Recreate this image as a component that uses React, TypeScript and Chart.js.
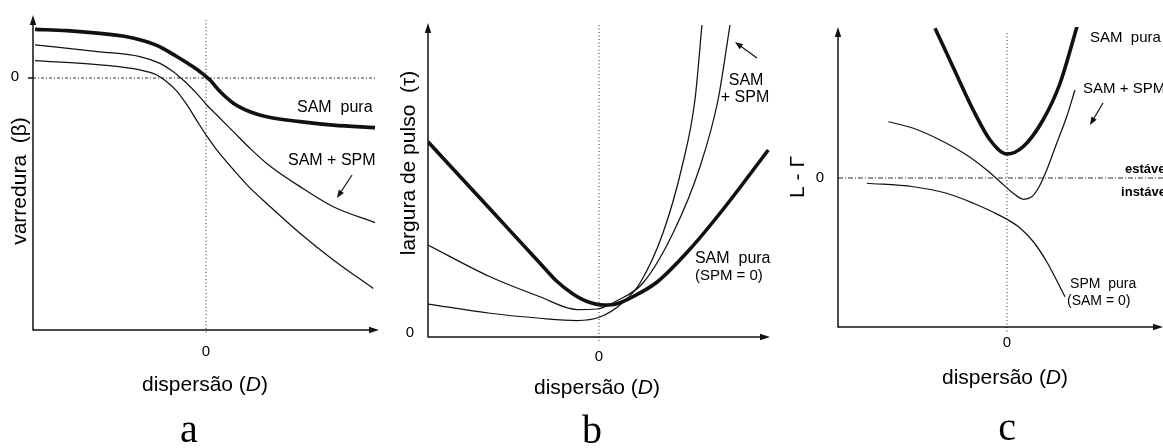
import React, { useEffect, useRef } from "react";
import { Chart, registerables } from "chart.js";

Chart.register(...registerables);

// ---------- Panel a : varredura (β) × dispersão (D)
const aSamPuraD = [-0.988, -0.805, -0.613, -0.458, -0.362, -0.266, -0.169, -0.092, -0.035, 0.023, 0.081, 0.158, 0.254, 0.351, 0.543, 0.736, 0.977];
const aSamPuraBeta = [1.93, 1.88, 1.77, 1.64, 1.48, 1.24, 0.85, 0.52, 0.25, -0.08, -0.54, -1.0, -1.34, -1.54, -1.73, -1.87, -1.97];
const aSamSpm1D = [-0.988, -0.613, -0.382, -0.266, -0.189, -0.121, -0.054, 0.004, 0.062, 0.158, 0.254, 0.351, 0.543, 0.736, 0.977];
const aSamSpm1Beta = [1.31, 1.04, 0.85, 0.58, 0.25, -0.15, -0.61, -1.07, -1.47, -2.13, -2.79, -3.39, -4.31, -5.11, -5.74];
const aSamSpm2D = [-0.988, -0.613, -0.382, -0.285, -0.227, -0.169, -0.112, -0.054, 0.004, 0.062, 0.158, 0.254, 0.351, 0.543, 0.736, 0.967];
const aSamSpm2Beta = [0.69, 0.52, 0.32, 0.12, -0.15, -0.52, -1.05, -1.68, -2.3, -2.85, -3.63, -4.36, -4.98, -6.16, -7.22, -8.35];

// ---------- Panel b : largura de pulso (τ) × dispersão (D)
const bSamPuraD = [-1, -0.637, -0.345, -0.25, -0.152, -0.07, 0.03, 0.1, 0.2, 0.34, 0.53, 0.725, 0.99];
const bSamPuraTau = [7.81, 5.12, 2.95, 2.25, 1.72, 1.42, 1.28, 1.32, 1.62, 2.2, 3.5, 5.1, 7.48];
const bSamSpm1D = [-1, -0.637, -0.345, -0.129, -0.012, 0.105, 0.257, 0.433, 0.59, 0.696, 0.766];
const bSamSpm1Tau = [3.68, 2.41, 1.61, 1.1, 1.12, 1.45, 2.16, 4.16, 6.8, 9.48, 12.48];
const bSamSpm2D = [-1, -0.637, -0.345, -0.129, 0.006, 0.14, 0.24, 0.374, 0.485, 0.561, 0.602];
const bSamSpm2Tau = [1.32, 0.95, 0.75, 0.66, 0.8, 1.38, 2.16, 4.16, 6.8, 9.48, 12.48];

// ---------- Panel c : L - Γ × dispersão (D)
const cSamPuraD = [-0.426, -0.32, -0.2, -0.1, 0, 0.095, 0.213, 0.314, 0.414];
const cSamPuraLG = [5.99, 4.45, 2.72, 1.52, 0.96, 1.25, 2.32, 3.79, 6.05];
const cSamSpmD = [-0.702, -0.554, -0.396, -0.239, -0.12, -0.041, 0.037, 0.097, 0.146, 0.185, 0.235, 0.294, 0.353, 0.402];
const cSamSpmLG = [2.25, 1.99, 1.52, 0.92, 0.32, -0.15, -0.61, -0.85, -0.75, -0.41, 0.32, 1.39, 2.45, 3.52];
const cSpmPuraD = [-0.83, -0.554, -0.357, -0.199, -0.081, 0.002, 0.077, 0.156, 0.235, 0.343];
const cSpmPuraLG = [-0.21, -0.35, -0.61, -1.01, -1.37, -1.66, -2.0, -2.55, -3.35, -4.75];

// ---------- texts
const xTickLabel = "0";
const yTickLabel = "0";
const xTitleMain = "dispersão (";
const xTitleVar = "D";
const xTitleEnd = ")";
const aYTitle = "varredura  (β)";
const bYTitle = "largura de pulso  (τ)";
const cYTitle = "L - Γ";

const SANS = "'Liberation Sans', Arial, Helvetica, sans-serif";
const SERIF = "'Liberation Serif', 'Times New Roman', serif";
const INK = "#111";

type Series = { xs: number[]; ys: number[]; thick: boolean };
type Label = { t: string; x: number; y: number; align: CanvasTextAlign; size: number; bold?: boolean };
type Arrow = { x1: number; y1: number; x2: number; y2: number };
type PanelCfg = {
  id: string;
  letter: string;
  left: number;
  w: number;
  h: number;
  pad: { left: number; right: number; top: number; bottom: number };
  xMin: number;
  xMax: number;
  yMin: number;
  yMax: number;
  series: Series[];
  yTitle: string;
  yTitleDx: number;
  yTitleTop: number;
  yTickDx: number;
  yTickDy: number;
  yTickMark: boolean;
  xTickDy: number;
  xTitleDx: number;
  xTitleDy: number;
  letterDx: number;
  letterDy: number;
  vTop: number;
  hZero: { dash: number[]; inset: number } | null;
  labels: Label[];
  arrows: Arrow[];
};

const panels: PanelCfg[] = [
  {
    id: "a",
    letter: "a",
    left: 0,
    w: 390,
    h: 448,
    pad: { left: 33, right: 11, top: 15, bottom: 118 },
    xMin: -1,
    xMax: 1,
    yMin: -10,
    yMax: 2.5,
    series: [
      { xs: aSamPuraD, ys: aSamPuraBeta, thick: true },
      { xs: aSamSpm1D, ys: aSamSpm1Beta, thick: false },
      { xs: aSamSpm2D, ys: aSamSpm2Beta, thick: false },
    ],
    yTitle: aYTitle,
    yTitleDx: -13,
    yTitleTop: 166,
    yTickDx: -18,
    yTickDy: -1,
    yTickMark: true,
    xTickDy: 22,
    xTitleDx: -1,
    xTitleDy: 61,
    letterDx: -17,
    letterDy: 112,
    vTop: 5,
    hZero: { dash: [3, 2, 1, 2], inset: 2 },
    labels: [
      { t: "SAM  pura", x: 0.526, y: -1.35, align: "left", size: 16 },
      { t: "SAM + SPM", x: 0.474, y: -3.45, align: "left", size: 16 },
    ],
    arrows: [{ x1: 0.844, y1: -3.85, x2: 0.757, y2: -4.76 }],
  },
  {
    id: "b",
    letter: "b",
    left: 390,
    w: 390,
    h: 448,
    pad: { left: 38, right: 10, top: 23, bottom: 111 },
    xMin: -1,
    xMax: 1,
    yMin: 0,
    yMax: 12.56,
    series: [
      { xs: bSamPuraD, ys: bSamPuraTau, thick: true },
      { xs: bSamSpm1D, ys: bSamSpm1Tau, thick: false },
      { xs: bSamSpm2D, ys: bSamSpm2Tau, thick: false },
    ],
    yTitle: bYTitle,
    yTitleDx: -19,
    yTitleTop: 140,
    yTickDx: -18,
    yTickDy: -4,
    yTickMark: false,
    xTickDy: 20,
    xTitleDx: -2,
    xTitleDy: 57,
    letterDx: -7,
    letterDy: 106,
    vTop: 2,
    hZero: null,
    labels: [
      { t: "SAM", x: 0.86, y: 10.08, align: "center", size: 16 },
      { t: "+ SPM", x: 0.854, y: 9.4, align: "center", size: 16 },
      { t: "SAM  pura", x: 0.561, y: 2.96, align: "left", size: 16 },
      { t: "(SPM = 0)", x: 0.561, y: 2.28, align: "left", size: 15 },
    ],
    arrows: [{ x1: 0.924, y1: 11.16, x2: 0.795, y2: 11.8 }],
  },
  {
    id: "c",
    letter: "c",
    left: 780,
    w: 383,
    h: 448,
    pad: { left: 58, right: 0, top: 27, bottom: 121 },
    xMin: -1,
    xMax: 0.923,
    yMin: -5.96,
    yMax: 6.04,
    series: [
      { xs: cSamPuraD, ys: cSamPuraLG, thick: true },
      { xs: cSamSpmD, ys: cSamSpmLG, thick: false },
      { xs: cSpmPuraD, ys: cSpmPuraLG, thick: false },
    ],
    yTitle: cYTitle,
    yTitleDx: -40,
    yTitleTop: 150,
    yTickDx: -18,
    yTickDy: 0,
    yTickMark: false,
    xTickDy: 16,
    xTitleDx: -2,
    xTitleDy: 57,
    letterDx: 0,
    letterDy: 113,
    vTop: 6,
    hZero: { dash: [5, 2, 1, 2], inset: 0 },
    labels: [
      { t: "SAM  pura", x: 0.491, y: 5.44, align: "left", size: 15 },
      { t: "SAM + SPM", x: 0.45, y: 3.4, align: "left", size: 15 },
      { t: "estável", x: 0.698, y: 0.2, align: "left", size: 13, bold: true },
      { t: "instável", x: 0.675, y: -0.72, align: "left", size: 13, bold: true },
      { t: "SPM  pura", x: 0.373, y: -4.4, align: "left", size: 14 },
      { t: "(SAM = 0)", x: 0.355, y: -5.08, align: "left", size: 14 },
    ],
    arrows: [{ x1: 0.568, y1: 3.0, x2: 0.491, y2: 2.12 }],
  },
];

function seg(ctx: CanvasRenderingContext2D, x1: number, y1: number, x2: number, y2: number) {
  ctx.beginPath();
  ctx.moveTo(x1, y1);
  ctx.lineTo(x2, y2);
  ctx.stroke();
}

function head(ctx: CanvasRenderingContext2D, tx: number, ty: number, ang: number, len: number, hw: number) {
  const bx = tx - Math.cos(ang) * len;
  const by = ty - Math.sin(ang) * len;
  const px = -Math.sin(ang) * hw;
  const py = Math.cos(ang) * hw;
  ctx.beginPath();
  ctx.moveTo(tx, ty);
  ctx.lineTo(bx + px, by + py);
  ctx.lineTo(bx - px, by - py);
  ctx.closePath();
  ctx.fill();
}

function makePlugin(p: PanelCfg) {
  return {
    id: "sketch-" + p.id,
    beforeDatasetsDraw(chart: any) {
      const { ctx, chartArea: ca, scales } = chart;
      const xs = scales.x;
      const ys = scales.y;
      const x0 = xs.getPixelForValue(0);
      ctx.save();
      ctx.strokeStyle = "#333";
      ctx.lineWidth = 1;
      ctx.setLineDash([1, 2.5]);
      seg(ctx, x0, ca.top + p.vTop, x0, ca.bottom + 5);
      if (p.hZero) {
        const y0 = ys.getPixelForValue(0);
        ctx.setLineDash(p.hZero.dash);
        seg(ctx, ca.left, y0, ca.right - p.hZero.inset, y0);
      }
      ctx.setLineDash([]);
      ctx.strokeStyle = INK;
      ctx.fillStyle = INK;
      ctx.lineWidth = 1.5;
      seg(ctx, ca.left, ca.bottom, ca.right - 6, ca.bottom);
      seg(ctx, ca.left, ca.bottom + 0.5, ca.left, ca.top + 6);
      head(ctx, ca.right, ca.bottom, 0, 10, 3.2);
      head(ctx, ca.left, ca.top, -Math.PI / 2, 10, 3.2);
      if (p.yTickMark) {
        const y0 = ys.getPixelForValue(0);
        seg(ctx, ca.left - 5, y0, ca.left, y0);
      }
      ctx.restore();
    },
    afterDatasetsDraw(chart: any) {
      const { ctx, chartArea: ca, scales } = chart;
      const xs = scales.x;
      const ys = scales.y;
      const x0 = xs.getPixelForValue(0);
      ctx.save();
      ctx.fillStyle = "#000";
      ctx.strokeStyle = INK;

      // tick labels
      ctx.font = "15px " + SANS;
      ctx.textAlign = "center";
      ctx.textBaseline = "middle";
      ctx.fillText(yTickLabel, ca.left + p.yTickDx, ys.getPixelForValue(0) + p.yTickDy);
      ctx.fillText(xTickLabel, x0, ca.bottom + p.xTickDy);

      // x title with italic D
      const fN = "21px " + SANS;
      const fI = "italic 21px " + SANS;
      const parts: [string, string][] = [
        [xTitleMain, fN],
        [xTitleVar, fI],
        [xTitleEnd, fN],
      ];
      let total = 0;
      const widths = parts.map(([s, f]) => {
        ctx.font = f;
        const w = ctx.measureText(s).width;
        total += w;
        return w;
      });
      let cx = x0 + p.xTitleDx - total / 2;
      ctx.textAlign = "left";
      ctx.textBaseline = "alphabetic";
      parts.forEach(([s, f], i) => {
        ctx.font = f;
        ctx.fillText(s, cx, ca.bottom + p.xTitleDy);
        cx += widths[i];
      });

      // y title (rotated)
      ctx.save();
      ctx.translate(ca.left + p.yTitleDx, ca.top + p.yTitleTop);
      ctx.rotate(-Math.PI / 2);
      ctx.font = "21px " + SANS;
      ctx.textAlign = "center";
      ctx.textBaseline = "middle";
      ctx.fillText(p.yTitle, 0, 0);
      ctx.restore();

      // panel letter
      ctx.font = "40px " + SERIF;
      ctx.textAlign = "center";
      ctx.textBaseline = "alphabetic";
      ctx.fillText(p.letter, x0 + p.letterDx, ca.bottom + p.letterDy);

      // curve labels
      p.labels.forEach((l) => {
        ctx.font = (l.bold ? "bold " : "") + l.size + "px " + SANS;
        ctx.textAlign = l.align;
        ctx.textBaseline = "alphabetic";
        ctx.fillText(l.t, xs.getPixelForValue(l.x), ys.getPixelForValue(l.y));
      });

      // pointer arrows
      ctx.lineWidth = 1.2;
      ctx.fillStyle = INK;
      p.arrows.forEach((a) => {
        const X1 = xs.getPixelForValue(a.x1);
        const Y1 = ys.getPixelForValue(a.y1);
        const X2 = xs.getPixelForValue(a.x2);
        const Y2 = ys.getPixelForValue(a.y2);
        const ang = Math.atan2(Y2 - Y1, X2 - X1);
        seg(ctx, X1, Y1, X2 - Math.cos(ang) * 5, Y2 - Math.sin(ang) * 5);
        head(ctx, X2, Y2, ang, 8, 3);
      });
      ctx.restore();
    },
  };
}

function Panel({ p }: { p: PanelCfg }) {
  const ref = useRef<HTMLCanvasElement | null>(null);
  useEffect(() => {
    if (!ref.current) return;
    const chart = new Chart(ref.current, {
      type: "line",
      data: {
        datasets: p.series.map((s) => ({
          data: s.xs.map((x, i) => ({ x, y: s.ys[i] })),
          borderColor: INK,
          borderWidth: s.thick ? 3.6 : 1.25,
          pointRadius: 0,
          cubicInterpolationMode: "monotone" as const,
          fill: false,
        })),
      },
      options: {
        animation: false,
        responsive: false,
        devicePixelRatio: 1,
        events: [],
        layout: { padding: p.pad },
        scales: {
          x: { type: "linear", min: p.xMin, max: p.xMax, display: false },
          y: { type: "linear", min: p.yMin, max: p.yMax, display: false },
        },
        plugins: { legend: { display: false }, tooltip: { enabled: false } },
      },
      plugins: [makePlugin(p)],
    } as any);
    return () => chart.destroy();
  }, [p]);
  return (
    <canvas
      ref={ref}
      width={p.w}
      height={p.h}
      style={{ position: "absolute", left: p.left, top: 0, width: p.w, height: p.h }}
    />
  );
}

export default function App() {
  return (
    <div
      style={{
        position: "fixed",
        left: 0,
        top: 0,
        width: 1163,
        height: 448,
        background: "#fff",
        overflow: "hidden",
      }}
    >
      {panels.map((p) => (
        <Panel key={p.id} p={p} />
      ))}
    </div>
  );
}
